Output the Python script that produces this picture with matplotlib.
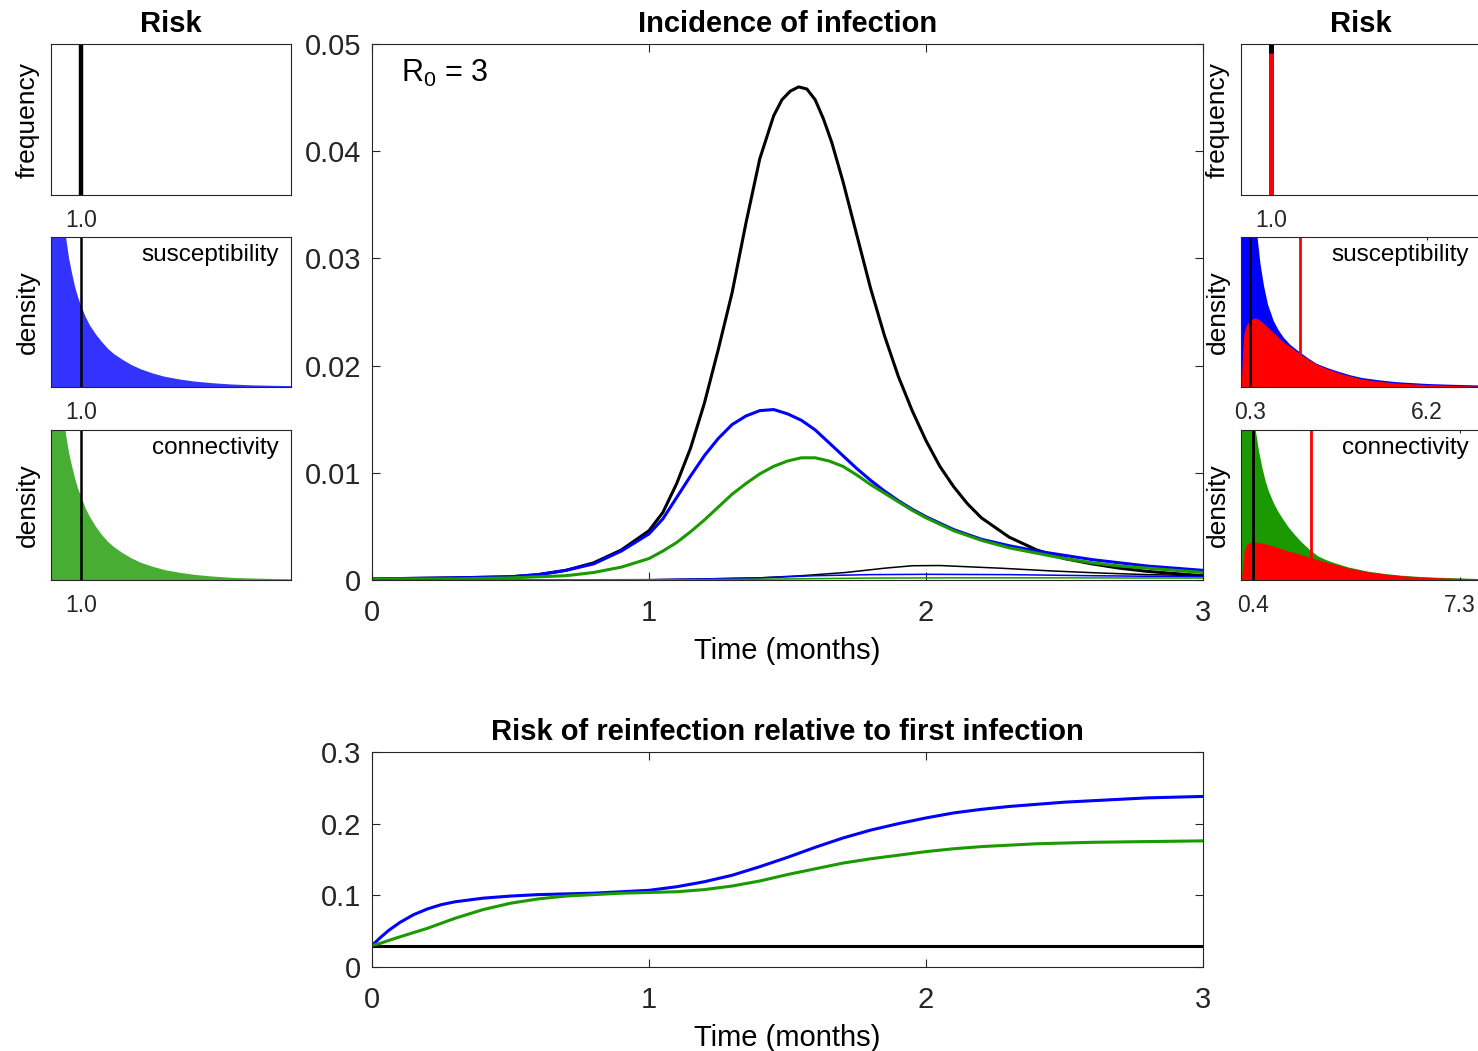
import numpy as np
import matplotlib
matplotlib.use("Agg")
import matplotlib.pyplot as plt

plt.rcParams['font.family'] = ['Liberation Sans', 'DejaVu Sans']
plt.rcParams['mathtext.fontset'] = 'custom'
plt.rcParams['mathtext.rm'] = 'Liberation Sans'
plt.rcParams['mathtext.it'] = 'Liberation Sans:italic'

# ---- incidence of infection (months) ----
t_black = [0, 0.3, 0.5, 0.6, 0.7, 0.8, 0.9, 1.0, 1.05, 1.1, 1.15, 1.2, 1.25, 1.3, 1.35, 1.4,
           1.45, 1.48, 1.51, 1.54, 1.57, 1.6, 1.63, 1.66, 1.7, 1.75, 1.8, 1.85, 1.9, 1.95, 2.0,
           2.05, 2.1, 2.15, 2.2, 2.3, 2.4, 2.5, 2.6, 2.7, 2.8, 2.9, 3.0]
inc_black = [0.0001, 0.0002, 0.0003, 0.0005, 0.0009, 0.0016, 0.0028, 0.0046, 0.0063, 0.0090,
             0.0123, 0.0165, 0.0215, 0.0268, 0.0333, 0.0393, 0.0433, 0.0448, 0.0456, 0.0460,
             0.0458, 0.0448, 0.0430, 0.0408, 0.0372, 0.0322, 0.0272, 0.0228, 0.0190, 0.0158,
             0.0130, 0.0106, 0.0087, 0.0071, 0.0058, 0.0040, 0.0028, 0.0020, 0.0015, 0.0011,
             0.0008, 0.0006, 0.0004]

t_blue = [0, 0.3, 0.5, 0.6, 0.7, 0.8, 0.9, 1.0, 1.05, 1.1, 1.15, 1.2, 1.25, 1.3, 1.35, 1.4,
          1.45, 1.5, 1.55, 1.6, 1.65, 1.7, 1.75, 1.8, 1.85, 1.9, 1.95, 2.0, 2.1, 2.2, 2.3, 2.4,
          2.5, 2.6, 2.7, 2.8, 2.9, 3.0]
inc_blue = [0.0001, 0.0002, 0.0003, 0.0005, 0.0009, 0.0015, 0.0027, 0.0043, 0.0057, 0.0077,
            0.0097, 0.0116, 0.0132, 0.0145, 0.0153, 0.0158, 0.0159, 0.0155, 0.0149, 0.0140,
            0.0128, 0.0116, 0.0104, 0.0093, 0.0083, 0.0074, 0.0066, 0.0059, 0.0047, 0.0038,
            0.0032, 0.0027, 0.0023, 0.0019, 0.0016, 0.0013, 0.0011, 0.0009]

t_green = [0, 0.3, 0.5, 0.6, 0.7, 0.8, 0.9, 1.0, 1.05, 1.1, 1.15, 1.2, 1.25, 1.3, 1.35, 1.4,
           1.45, 1.5, 1.55, 1.6, 1.65, 1.7, 1.75, 1.8, 1.85, 1.9, 1.95, 2.0, 2.1, 2.2, 2.3, 2.4,
           2.5, 2.6, 2.7, 2.8, 2.9, 3.0]
inc_green = [0.0001, 0.0001, 0.0002, 0.0003, 0.0004, 0.0007, 0.0012, 0.0020, 0.0027, 0.0035,
             0.0045, 0.0056, 0.0068, 0.0080, 0.0090, 0.0099, 0.0106, 0.0111, 0.0114, 0.0114,
             0.0111, 0.0106, 0.0098, 0.0089, 0.0081, 0.0073, 0.0065, 0.0058, 0.0046, 0.0037,
             0.0030, 0.0025, 0.0020, 0.0016, 0.0013, 0.0011, 0.0009, 0.0007]

# reinfections (thin lines)
t_re_black = [0, 1.0, 1.2, 1.4, 1.55, 1.71, 1.85, 1.95, 2.05, 2.27, 2.45, 2.63, 2.8, 3.0]
re_black = [0, 0.00003, 0.0001, 0.0002, 0.0004, 0.0007, 0.0011, 0.00133, 0.00135, 0.0011,
            0.00085, 0.00065, 0.0005, 0.0004]
t_re_blue = [0, 1.0, 1.2, 1.4, 1.6, 1.8, 2.0, 2.3, 2.6, 3.0]
re_blue = [0, 0.00002, 0.0001, 0.0002, 0.0004, 0.0005, 0.00053, 0.0005, 0.0004, 0.0003]
t_re_green = [0, 1.2, 1.5, 1.8, 2.1, 2.5, 3.0]
re_green = [0, 0.00003, 0.0001, 0.00018, 0.0002, 0.0002, 0.00018]

# ---- relative risk of reinfection ----
t_risk = [0, 0.03, 0.06, 0.1, 0.15, 0.2, 0.25, 0.3, 0.4, 0.5, 0.6, 0.7, 0.8, 0.9, 1.0, 1.1,
          1.2, 1.3, 1.4, 1.5, 1.6, 1.7, 1.8, 1.9, 2.0, 2.1, 2.2, 2.3, 2.4, 2.5, 2.6, 2.7, 2.8,
          2.9, 3.0]
risk_blue = [0.030, 0.041, 0.051, 0.062, 0.073, 0.081, 0.087, 0.091, 0.096, 0.099, 0.101,
             0.102, 0.103, 0.105, 0.107, 0.112, 0.119, 0.128, 0.140, 0.153, 0.167, 0.180,
             0.191, 0.200, 0.208, 0.215, 0.220, 0.224, 0.227, 0.230, 0.232, 0.234, 0.236,
             0.237, 0.238]
risk_green = [0.030, 0.033, 0.037, 0.042, 0.048, 0.054, 0.061, 0.068, 0.080, 0.089, 0.095,
              0.099, 0.101, 0.103, 0.104, 0.105, 0.108, 0.113, 0.120, 0.129, 0.137, 0.145,
              0.151, 0.156, 0.161, 0.165, 0.168, 0.170, 0.172, 0.173, 0.174, 0.1745, 0.175,
              0.1755, 0.176]
risk_black = [0.030] * len(t_risk)

# ---- risk distributions (density, normalised to panel height) ----
dens_x = [0, 0.1, 0.2, 0.3, 0.4, 0.5, 0.6, 0.7, 0.8, 0.9, 1.0, 1.15, 1.3, 1.5, 1.7, 1.9, 2.1,
          2.4, 2.7, 3.0, 3.4, 3.8, 4.3, 4.8, 5.4, 6.0, 6.7, 7.4, 8.0]
sus_before = [9, 3.5, 2.2, 1.6, 1.25, 1.0, 0.86, 0.76, 0.67, 0.60, 0.544, 0.47, 0.41, 0.35,
              0.30, 0.255, 0.22, 0.18, 0.145, 0.118, 0.09, 0.068, 0.05, 0.036, 0.025, 0.017,
              0.011, 0.008, 0.006]
con_before = [9, 3.5, 2.1, 1.5, 1.2, 0.97, 0.85, 0.76, 0.68, 0.61, 0.56, 0.48, 0.42, 0.355,
              0.30, 0.255, 0.22, 0.178, 0.143, 0.115, 0.088, 0.066, 0.048, 0.034, 0.023,
              0.015, 0.010, 0.007, 0.005]

rs_x = [0, 0.1, 0.2, 0.3, 0.4, 0.55, 0.65, 0.77, 0.9, 1.09, 1.25, 1.42, 1.65, 1.97, 2.25,
        2.51, 2.9, 3.28, 3.65, 4.04, 4.6, 5.14, 5.7, 6.23, 7.0, 8.0]
rs_blue = [9, 4, 2.5, 1.8, 1.4, 1.0, 0.82, 0.67, 0.55, 0.44, 0.38, 0.33, 0.28, 0.23, 0.19,
           0.156, 0.125, 0.10, 0.078, 0.06, 0.045, 0.033, 0.026, 0.02, 0.015, 0.01]
rs_red_x = [0, 0.03, 0.06, 0.1, 0.15, 0.2, 0.3, 0.44, 0.55, 0.66, 0.8, 0.98, 1.2, 1.42, 1.7,
            1.97, 2.25, 2.51, 2.9, 3.28, 3.65, 4.04, 4.6, 5.14, 5.7, 6.23, 7.0, 8.0]
rs_red = [0.0, 0.11, 0.25, 0.36, 0.40, 0.42, 0.445, 0.46, 0.455, 0.44, 0.415, 0.38, 0.34,
          0.30, 0.26, 0.22, 0.185, 0.152, 0.12, 0.093, 0.072, 0.053, 0.038, 0.027, 0.021,
          0.016, 0.011, 0.006]

rc_x = [0, 0.1, 0.2, 0.3, 0.4, 0.49, 0.6, 0.71, 0.82, 0.93, 1.1, 1.26, 1.42, 1.59, 1.8, 2.03,
        2.3, 2.58, 2.85, 3.13, 3.6, 4.23, 4.8, 5.33, 5.9, 6.43, 7.2, 8.0]
rc_green = [9, 4, 2.5, 1.8, 1.3, 1.0, 0.86, 0.75, 0.66, 0.59, 0.51, 0.45, 0.40, 0.35, 0.30,
            0.25, 0.20, 0.157, 0.132, 0.112, 0.083, 0.056, 0.04, 0.029, 0.021, 0.016, 0.011,
            0.006]
rc_red_x = [0, 0.05, 0.11, 0.18, 0.27, 0.38, 0.49, 0.7, 0.93, 1.2, 1.48, 1.75, 2.03, 2.3, 2.58,
            2.85, 3.13, 3.6, 4.23, 4.8, 5.33, 5.9, 6.43, 7.2, 8.0]
rc_red = [0, 0.07, 0.2, 0.235, 0.25, 0.253, 0.253, 0.245, 0.235, 0.218, 0.2, 0.184, 0.168,
          0.151, 0.134, 0.119, 0.105, 0.08, 0.055, 0.04, 0.029, 0.021, 0.016, 0.011, 0.006]

mean_before = 1.0
freq_after = 0.94
sus_marks = [0.3, 1.97]     # black, red
con_marks = [0.4, 2.33]
sus_ticks = [0.3, 6.2]
con_ticks = [0.4, 7.3]

BLUE = '#0000ff'
GREEN = '#1a9900'
GRAY = '#262626'

W, H = 1478, 1051
fig = plt.figure(figsize=(W / 100, H / 100), dpi=100)


def box(x0, y0, x1, y1):
    return [x0 / W, 1 - y1 / H, (x1 - x0) / W, (y1 - y0) / H]


def style(ax, size, pad, length):
    for s in ax.spines.values():
        s.set_color(GRAY)
        s.set_linewidth(0.8)
    ax.tick_params(direction='in', top=True, right=True, labelsize=size, pad=pad,
                   length=length, width=0.8, color=GRAY, labelcolor=GRAY)


def small(rect, ylab, ticks, ticklabels, label=None):
    ax = fig.add_axes(rect)
    ax.set_xlim(0, 8)
    ax.set_ylim(0, 1)
    style(ax, 16.5, 10, 2.5)
    ax.set_xticks(ticks)
    ax.set_xticklabels(ticklabels)
    ax.set_yticks([])
    ax.set_ylabel(ylab, fontsize=19, labelpad=8)
    if label:
        ax.text(0.95, 0.88, label, transform=ax.transAxes, ha='right', va='center',
                fontsize=17.5)
    return ax


# left column: before
ax = small(box(51, 44, 291, 195), 'frequency', [mean_before], ['1.0'])
ax.vlines(mean_before, 0, 1, color='k', lw=3.2)
ax.set_title('Risk', fontsize=21, fontweight='bold', pad=9)

ax = small(box(51, 237, 291, 387), 'density', [mean_before], ['1.0'], 'susceptibility')
ax.fill_between(dens_x, 0, sus_before, color='#3333ff', lw=0)
ax.axvline(mean_before, color='k', lw=1.8)

ax = small(box(51, 430, 291, 580), 'density', [mean_before], ['1.0'], 'connectivity')
ax.fill_between(dens_x, 0, con_before, color='#48ad33', lw=0)
ax.axvline(mean_before, color='k', lw=1.8)

# right column: after
ax = small(box(1241, 44, 1481, 195), 'frequency', [mean_before], ['1.0'])
ax.vlines(mean_before, 0, 1, color='k', lw=3.6)
ax.vlines(mean_before, 0, freq_after, color='#ff0000', lw=3.6)
ax.set_title('Risk', fontsize=21, fontweight='bold', pad=9)

ax = small(box(1241, 237, 1481, 387), 'density', sus_ticks, ['0.3', '6.2'], 'susceptibility')
ax.fill_between(rs_x, 0, rs_blue, color=BLUE, lw=0)
ax.fill_between(rs_red_x, 0, rs_red, color='#ff0000', lw=0)
ax.axvline(sus_marks[0], color='k', lw=2)
ax.axvline(sus_marks[1], color='#ff0000', lw=2)

ax = small(box(1241, 430, 1481, 580), 'density', con_ticks, ['0.4', '7.3'], 'connectivity')
ax.fill_between(rc_x, 0, rc_green, color=GREEN, lw=0)
ax.fill_between(rc_red_x, 0, rc_red, color='#ff0000', lw=0)
ax.axvline(con_marks[0], color='k', lw=2)
ax.axvline(con_marks[1], color='#ff0000', lw=2)

# main incidence panel
ax = fig.add_axes(box(372, 44, 1203, 580))
ax.plot(t_black, inc_black, color='k', lw=2.2)
ax.plot(t_blue, inc_blue, color=BLUE, lw=2.2)
ax.plot(t_green, inc_green, color=GREEN, lw=2.2)
ax.plot(t_re_black, re_black, color='k', lw=1.1)
ax.plot(t_re_blue, re_blue, color=BLUE, lw=1.1)
ax.plot(t_re_green, re_green, color=GREEN, lw=1.1)
ax.set_xlim(0, 3)
ax.set_ylim(0, 0.05)
ax.set_xticks([0, 1, 2, 3])
ax.set_yticks([0, 0.01, 0.02, 0.03, 0.04, 0.05])
ax.set_yticklabels(['0', '0.01', '0.02', '0.03', '0.04', '0.05'])
style(ax, 21, 8, 6)
ax.tick_params(axis='x', pad=14)
ax.set_xlabel('Time (months)', fontsize=21, labelpad=7)
ax.set_title('Incidence of infection', fontsize=21, fontweight='bold', pad=9)
ax.text(0.035, 0.945, r'R$_\mathrm{0}$ = 3', transform=ax.transAxes, fontsize=22,
        ha='left', va='center')

# reinfection risk panel
ax = fig.add_axes(box(372, 752, 1203, 967))
ax.plot(t_risk, risk_black, color='k', lw=2.2)
ax.plot(t_risk, risk_blue, color=BLUE, lw=2.2)
ax.plot(t_risk, risk_green, color=GREEN, lw=2.2)
ax.set_xlim(0, 3)
ax.set_ylim(0, 0.3)
ax.set_xticks([0, 1, 2, 3])
ax.set_yticks([0, 0.1, 0.2, 0.3])
ax.set_yticklabels(['0', '0.1', '0.2', '0.3'])
style(ax, 21, 8, 6)
ax.tick_params(axis='x', pad=14)
ax.set_xlabel('Time (months)', fontsize=21, labelpad=7)
ax.set_title('Risk of reinfection relative to first infection', fontsize=21,
             fontweight='bold', pad=9)

fig.savefig('out.png', dpi=100)
